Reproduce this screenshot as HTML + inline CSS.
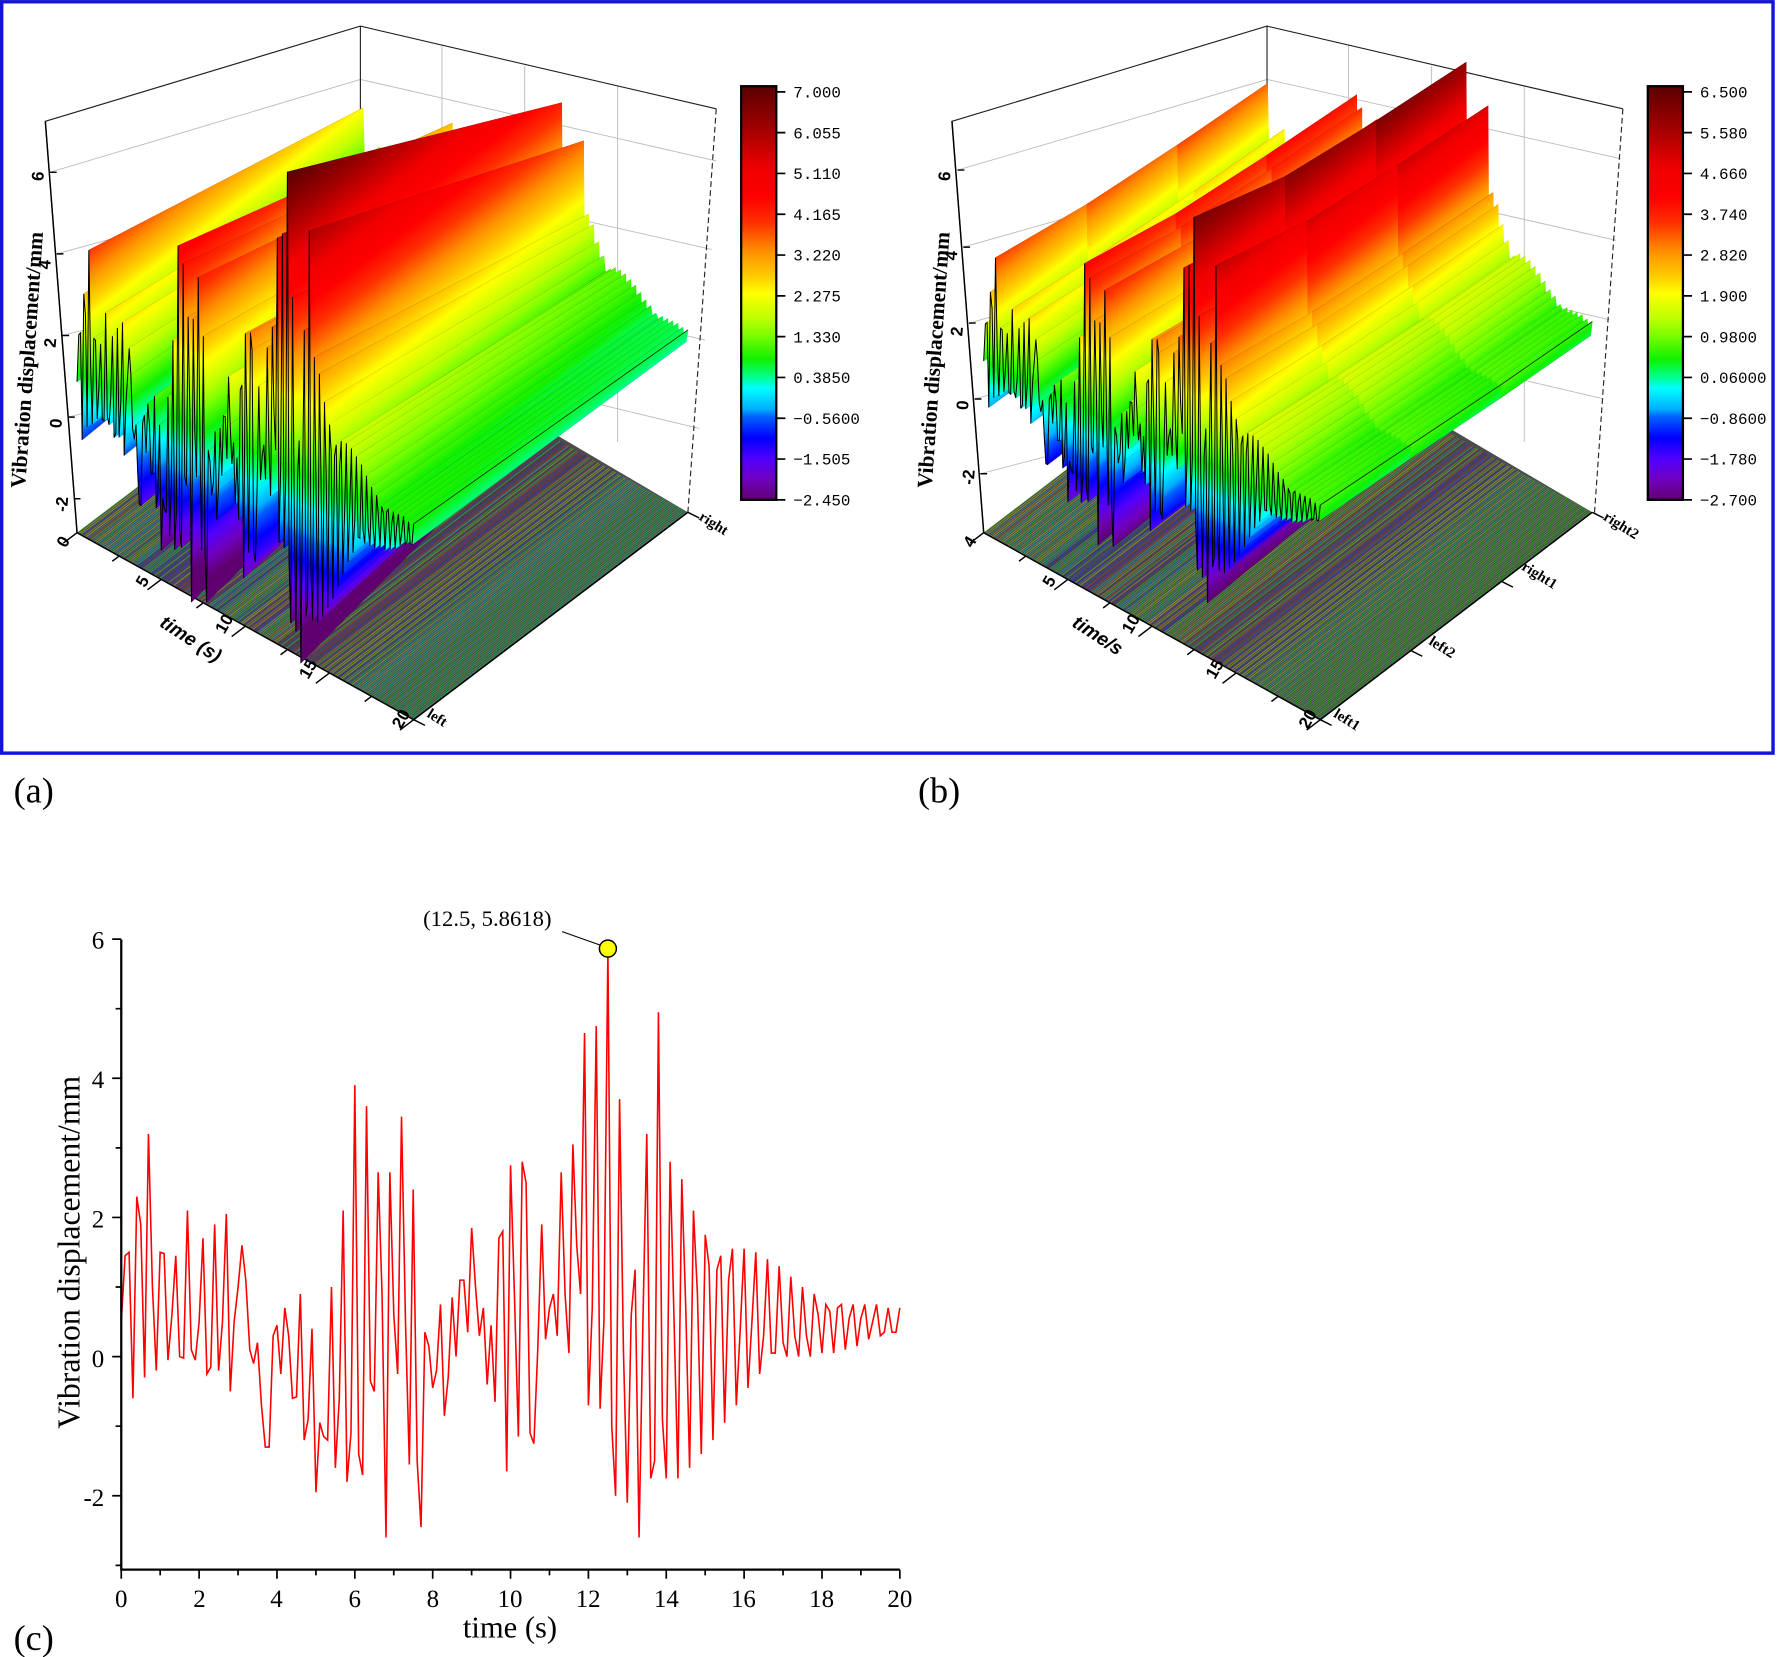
<!DOCTYPE html>
<html><head><meta charset="utf-8"><style>
html,body{margin:0;padding:0;background:#fff;}
svg{display:block;}
.tk{font-family:"Liberation Serif",serif;font-size:22px;fill:#000;}
.cb{font-family:"Liberation Mono",monospace;font-size:14px;fill:#000;}
.ax3{font-family:"Liberation Sans",sans-serif;font-size:15px;font-weight:bold;fill:#000;}
.lb3{font-family:"Liberation Serif",serif;font-size:15px;font-weight:bold;fill:#000;}
</style></head><body>
<svg id="s" xmlns="http://www.w3.org/2000/svg" xmlns:xlink="http://www.w3.org/1999/xlink" width="1777" height="1657" viewBox="0 0 1568 1462">
<defs>
<linearGradient id="cm" x1="0" y1="0" x2="0" y2="1">
<stop offset="0" stop-color="#5a0000"/><stop offset="0.1" stop-color="#a00000"/><stop offset="0.2" stop-color="#f00000"/><stop offset="0.27" stop-color="#ff0000"/><stop offset="0.33" stop-color="#ff3000"/><stop offset="0.4" stop-color="#ff9000"/><stop offset="0.47" stop-color="#ffd800"/><stop offset="0.5" stop-color="#ffff00"/><stop offset="0.56" stop-color="#c0ff00"/><stop offset="0.6" stop-color="#80ff00"/><stop offset="0.66" stop-color="#10f000"/><stop offset="0.7" stop-color="#00ff80"/><stop offset="0.73" stop-color="#00ffff"/><stop offset="0.78" stop-color="#00b0ff"/><stop offset="0.8" stop-color="#0060ff"/><stop offset="0.85" stop-color="#0000ff"/><stop offset="0.9" stop-color="#5000ff"/><stop offset="0.95" stop-color="#7000c0"/><stop offset="1" stop-color="#600070"/>
</linearGradient>
</defs>
<rect x="1.5" y="1.5" width="1563" height="663" fill="none" stroke="#1414d8" stroke-width="3"/>
<g id="A"></g>
<g id="B"></g>
<rect x="654" y="76" width="31" height="365" fill="url(#cm)" stroke="#000" stroke-width="2"/>
<rect x="1454" y="76" width="31" height="365" fill="url(#cm)" stroke="#000" stroke-width="2"/>
<g class="cb">
<text x="700" y="86">7.000</text><text x="700" y="122">6.055</text><text x="700" y="158">5.110</text><text x="700" y="194">4.165</text><text x="700" y="230">3.220</text><text x="700" y="266">2.275</text><text x="700" y="302">1.330</text><text x="700" y="338">0.3850</text><text x="700" y="374">−0.5600</text><text x="700" y="410">−1.505</text><text x="700" y="446">−2.450</text>
<text x="1500" y="86">6.500</text><text x="1500" y="122">5.580</text><text x="1500" y="158">4.660</text><text x="1500" y="194">3.740</text><text x="1500" y="230">2.820</text><text x="1500" y="266">1.900</text><text x="1500" y="302">0.9800</text><text x="1500" y="338">0.06000</text><text x="1500" y="374">−0.8600</text><text x="1500" y="410">−1.780</text><text x="1500" y="446">−2.700</text>
</g>
<g stroke="#000" stroke-width="1.5">
<path d="M685 81h8M685 117h8M685 153h8M685 189h8M685 225h8M685 261h8M685 297h8M685 333h8M685 369h8M685 405h8M685 441h8"/>
<path d="M1485 81h8M1485 117h8M1485 153h8M1485 189h8M1485 225h8M1485 261h8M1485 297h8M1485 333h8M1485 369h8M1485 405h8M1485 441h8"/>
</g>
<g class="ax3">
<text transform="translate(38,160) rotate(-85)">6</text>
<text transform="translate(44,238) rotate(-85)">4</text>
<text transform="translate(49,307) rotate(-85)">2</text>
<text transform="translate(54,378) rotate(-85)">0</text>
<text transform="translate(59,452) rotate(-85)">-2</text>
<text transform="translate(58,484) rotate(-60)">0</text>
<text transform="translate(128,519) rotate(-60)">5</text>
<text transform="translate(198,560) rotate(-60)">10</text>
<text transform="translate(272,600) rotate(-60)">15</text>
<text transform="translate(354,644) rotate(-60)">20</text>
<text transform="translate(140,552) rotate(33)" font-style="italic" font-size="17">time (s)</text>
<text transform="translate(838,160) rotate(-85)">6</text>
<text transform="translate(844,230) rotate(-85)">4</text>
<text transform="translate(849,297) rotate(-85)">2</text>
<text transform="translate(854,362) rotate(-85)">0</text>
<text transform="translate(859,428) rotate(-85)">-2</text>
<text transform="translate(858,484) rotate(-60)">4</text>
<text transform="translate(928,519) rotate(-60)">5</text>
<text transform="translate(998,560) rotate(-60)">10</text>
<text transform="translate(1072,600) rotate(-60)">15</text>
<text transform="translate(1154,644) rotate(-60)">20</text>
<text transform="translate(945,552) rotate(33)" font-style="italic" font-size="17">time/s</text>
</g>
<g class="lb3">
<text transform="translate(30,318) rotate(-86)" text-anchor="middle" font-size="19">Vibration displacement/mm</text>
<text transform="translate(830,318) rotate(-86)" text-anchor="middle" font-size="19">Vibration displacement/mm</text>
</g>
<g class="lb3">
<text transform="translate(376,632) rotate(32)" font-size="13">left</text>
<text transform="translate(616,458) rotate(32)" font-size="13">right</text>
<text transform="translate(1176,632) rotate(32)" font-size="13">left1</text>
<text transform="translate(1260,568) rotate(32)" font-size="13">left2</text>
<text transform="translate(1342,502) rotate(32)" font-size="13">right1</text>
<text transform="translate(1414,458) rotate(32)" font-size="13">right2</text>
</g>
<g font-family="Liberation Serif, serif" font-size="32">
<text x="12" y="708">(a)</text><text x="810" y="708">(b)</text><text x="12" y="1456">(c)</text>
</g>
<g id="C"></g>
<g stroke="#000" stroke-width="2" fill="none">
<path d="M107 829V1385H794"/>
</g>
<g id="Cticks" stroke="#000" stroke-width="1.5"></g>
<g class="tk" text-anchor="end">
<text x="92" y="837">6</text><text x="92" y="960">4</text><text x="92" y="1083">2</text><text x="92" y="1206">0</text><text x="92" y="1329">-2</text>
</g>
<g class="tk" text-anchor="middle">
<text x="107" y="1418">0</text><text x="176" y="1418">2</text><text x="244" y="1418">4</text><text x="313" y="1418">6</text><text x="382" y="1418">8</text><text x="450" y="1418">10</text><text x="519" y="1418">12</text><text x="588" y="1418">14</text><text x="656" y="1418">16</text><text x="725" y="1418">18</text><text x="794" y="1418">20</text>
</g>
<text x="450" y="1445" text-anchor="middle" font-family="Liberation Serif, serif" font-size="27">time (s)</text>
<text transform="translate(70,1105) rotate(-90)" text-anchor="middle" font-family="Liberation Serif, serif" font-size="28">Vibration displacement/mm</text>
<text x="430" y="817" text-anchor="middle" font-family="Liberation Serif, serif" font-size="20">(12.5, 5.8618)</text>
<line x1="496" y1="822" x2="530" y2="834" stroke="#000" stroke-width="1"/>
</svg>
<script>
var V=[0.5,1.45,1.5,-0.6,2.3,1.9,-0.3,3.2,1.0,-0.2,1.5,1.48,-0.05,0.6,1.45,0,-0.02,2.1,0.1,-0.05,0.5,1.7,-0.25,-0.15,1.9,-0.2,0.5,2.05,-0.5,0.5,1.0,1.6,1.1,0.1,-0.1,0.2,-0.7,-1.3,-1.3,0.3,0.45,-0.25,0.7,0.3,-0.6,-0.58,0.9,-1.2,-0.9,0.4,-1.95,-0.95,-1.15,-1.2,1.0,-1.6,-0.6,2.1,-1.8,-1.1,3.9,-1.4,-1.7,3.6,-0.35,-0.5,2.65,0.9,-2.6,2.65,0.6,-0.25,3.45,0.5,-1.55,2.4,-1.5,-2.45,0.35,0.15,-0.45,-0.2,0.75,-0.85,-0.3,0.85,0,1.1,1.1,0.35,1.85,1.0,0.3,0.7,-0.4,0.45,-0.65,1.7,1.8,-1.65,2.75,0.9,-1.15,2.8,2.5,-1.1,-1.25,0.1,1.9,0.25,0.7,0.9,0.3,2.65,0.9,0.05,3.05,1.6,0.9,4.65,-0.7,0.7,4.75,-0.75,0.5,5.86,-1.0,-2.0,3.7,0.1,-2.1,0.6,1.25,-2.6,0.5,3.2,-1.75,-1.5,4.95,-0.9,-1.75,2.8,0.5,-1.75,2.55,0.7,-1.6,2.1,0.9,-1.4,1.75,1.3,-1.2,1.25,1.45,-0.95,1.1,1.55,-0.7,0.4,1.55,-0.45,0.5,1.5,-0.25,0.3,1.4,0.05,0.05,1.3,0.2,0,1.15,0.3,0,1.0,0.3,0,0.9,0.6,0.05,0.75,0.65,0.05,0.7,0.75,0.1,0.55,0.75,0.15,0.55,0.75,0.25,0.5,0.75,0.3,0.35,0.7,0.35,0.35,0.7];
var NS="http://www.w3.org/2000/svg";
function el(n,a,p){var e=document.createElementNS(NS,n);for(var k in a)e.setAttribute(k,a[k]);if(p)p.appendChild(e);return e;}
var defs=document.querySelector('defs');
var stops=[[0,"#5a0000"],[0.1,"#a00000"],[0.2,"#f00000"],[0.27,"#ff0000"],[0.33,"#ff3000"],[0.4,"#ff9000"],[0.47,"#ffd800"],[0.5,"#ffff00"],[0.56,"#c0ff00"],[0.6,"#80ff00"],[0.66,"#10f000"],[0.7,"#00ff80"],[0.73,"#00ffff"],[0.78,"#00b0ff"],[0.8,"#0060ff"],[0.85,"#0000ff"],[0.9,"#5000ff"],[0.95,"#7000c0"],[1,"#600070"]];
function hex(c){return [parseInt(c.substr(1,2),16),parseInt(c.substr(3,2),16),parseInt(c.substr(5,2),16)];}
function cmapf(f){f=Math.max(0,Math.min(1,f));for(var i=1;i<stops.length;i++){if(f<=stops[i][0]){var a=stops[i-1],b=stops[i],u=(f-a[0])/(b[0]-a[0]),A=hex(a[1]),B=hex(b[1]);return 'rgb('+Math.round(A[0]+(B[0]-A[0])*u)+','+Math.round(A[1]+(B[1]-A[1])*u)+','+Math.round(A[2]+(B[2]-A[2])*u)+')';}}return stops[stops.length-1][1];}
var gid=0;
function chart(g,o){
  var P0=o.P0,P1=o.P1,D=o.D,N=V.length-1;
  var L=Math.hypot(D[0],D[1]),n=[-D[1]/L,D[0]/L];
  function P(i){var u=i/N;return [P0[0]+(P1[0]-P0[0])*u,P0[1]+(P1[1]-P0[1])*u];}
  function K(i,s){return (o.k0+(o.k1-o.k0)*i/N)*(1-(1-o.shr)*s);}
  function Q(i,s,z){var p=P(i),k=K(i,s);return [p[0]+s*D[0],p[1]+s*D[1]-(z-o.zf)*k];}
  el('path',{d:o.grid,stroke:'#bbb','stroke-width':0.8,fill:'none'},g);
  el('path',{d:o.box,stroke:'#222','stroke-width':1,fill:'none'},g);
  el('path',{d:o.dash,stroke:'#222','stroke-width':1,fill:'none','stroke-dasharray':'5,3'},g);
  var c=[P(0),P(N),[P1[0]+D[0],P1[1]+D[1]],[P0[0]+D[0]*o.shr2,P0[1]+D[1]*o.shr2]];
  el('polygon',{points:c.map(function(p){return p.join(',')}).join(' '),fill:'#4c4c4c'},g);
  for(var i=0;i<=N;i++){var p=P(i);for(var j=0;j<o.S.length-1;j++){var v=o.vals[j][i];
    el('line',{x1:p[0]+o.S[j]*D[0],y1:p[1]+o.S[j]*D[1],x2:p[0]+o.S[j+1]*D[0],y2:p[1]+o.S[j+1]*D[1],stroke:cmapf((o.cmax-v)/(o.cmax-o.cmin)),'stroke-width':0.5,'stroke-opacity':0.6},g);}}
  el('path',{d:'M'+P0[0]+' '+P0[1]+'L'+P1[0]+' '+P1[1]+'L'+(P1[0]+D[0])+' '+(P1[1]+D[1]),stroke:'#000','stroke-width':1.3,fill:'none'},g);
  var tk='';for(var t=0;t<=20;t+=2.5){var p=P(t/20*N);tk+='M'+p[0]+' '+p[1]+'l'+(-D[0]*(t%5?0.025:0.05))+' '+(-D[1]*(t%5?0.025:0.05));}
  for(var j=0;j<o.S.length;j++){var x=P1[0]+D[0]*o.S[j],y=P1[1]+D[1]*o.S[j];tk+='M'+x+' '+y+'l10 5';}
  el('path',{d:tk,stroke:'#000','stroke-width':1.3},g);
  for(var i=0;i<N;i++){
    for(var j=o.S.length-2;j>=0;j--){
      var s0=o.S[j],s1=o.S[j+1];
      var pts=[Q(i,s0,o.vals[j][i]),Q(i+1,s0,o.vals[j][i+1]),Q(i+1,s1,o.vals[j+1][i+1]),Q(i,s1,o.vals[j+1][i])];
      var b=P(i),k=K(i,s0),bx=b[0]+s0*D[0],by=b[1]+s0*D[1];
      var A=[bx,by-(o.cmax-o.zf)*k],len=(o.cmax-o.cmin)*k*n[1];
      var id='g'+(gid++);
      var lg=el('linearGradient',{id:id,gradientUnits:'userSpaceOnUse',x1:A[0],y1:A[1],x2:A[0]+n[0]*len,y2:A[1]+n[1]*len,href:'#cm'},defs);
      lg.setAttributeNS('http://www.w3.org/1999/xlink','xlink:href','#cm');
      el('polygon',{points:pts.map(function(p){return p[0].toFixed(1)+','+p[1].toFixed(1)}).join(' '),fill:'url(#'+id+')',stroke:'url(#'+id+')','stroke-width':0.6},g);
    }
    var ln=[];for(var j=0;j<o.S.length;j++)ln.push(Q(i+1,o.S[j],o.vals[j][i+1]).map(function(x){return x.toFixed(1)}).join(','));
    el('polyline',{points:ln.join(' '),fill:'none',stroke:'#000','stroke-width':0.6},g);
  }
  var le=[];for(var i=0;i<=N;i++)le.push(Q(i,0,o.vals[0][i]).map(function(x){return x.toFixed(1)}).join(','));
  el('polyline',{points:le.join(' '),fill:'none',stroke:'#000','stroke-width':0.9},g);
  el('path',{d:o.zax,stroke:'#000','stroke-width':1.3,fill:'none'},g);
}
chart(document.getElementById('A'),{P0:[68,470],P1:[365,635],D:[242,-183],k0:37,k1:45,shr:0.86,shr2:1.03,zf:-3,cmax:7,cmin:-2.45,S:[0,1],
 vals:[V.map(function(v){return v*1.2}),V.map(function(v){return v*0.8+0.6})],
 grid:'M44 152L318 70M50 224L318 150M55 296L318 228M60 368L318 306M318 70L632 142M318 150L628 220M318 228L622 300M318 306L617 378M390 40V350M463 58V365M545 76V390',
 box:'M68 470L40 107L318 23L632 96M318 23V100',dash:'M632 96L607 452',
 zax:'M40 107L68 470M44 152h6M50 224h6M55 296h6M60 368h6M65 440h6'});
chart(document.getElementById('B'),{P0:[868,470],P1:[1165,635],D:[240,-183],k0:33.5,k1:40,shr:0.87,shr2:1.03,zf:-4,cmax:6.5,cmin:-2.7,S:[0,1/3,2/3,1],
 vals:[V.map(function(v){return v*1.05}),V.map(function(v){return v*1.0+0.05}),V.map(function(v){return v*1.02+0.05}),V.map(function(v){return v*1.05+0.1})],
 grid:'M845 150L1118 70M850 218L1118 142M855 285L1118 212M860 352L1118 282M865 418L1118 352M1118 70L1430 140M1118 142L1426 212M1118 212L1420 282M1118 282L1415 352M1190 40V350M1263 58V365M1345 76V390',
 box:'M868 470L840 107L1118 23L1432 96M1118 23V100',dash:'M1432 96L1407 452',
 zax:'M840 107L868 470M845 150h6M850 218h6M855 285h6M860 352h6M865 418h6'});
(function(){var g=document.getElementById('C');var pts=[];for(var i=0;i<V.length;i++){pts.push((107+i*0.1*34.35).toFixed(1)+','+(1197-V[i]*61.4).toFixed(1));}
el('polyline',{points:pts.join(' '),fill:'none',stroke:'#ff0000','stroke-width':1.4},g);
el('circle',{cx:536.4,cy:837,r:7.5,fill:'#ffff00',stroke:'#000','stroke-width':1.3},g);
var t=document.getElementById('Cticks'),d='';
for(var v=-3;v<=6;v++){var y=1197-v*61.4;d+='M107 '+y+'h'+(v%2==0?-8:-5);}
for(var x=0;x<=20;x++){var X=107+x*34.35;d+='M'+X+' 1385v'+(x%2==0?8:5);}
el('path',{d:d},t);})();
</script>
</body></html>
